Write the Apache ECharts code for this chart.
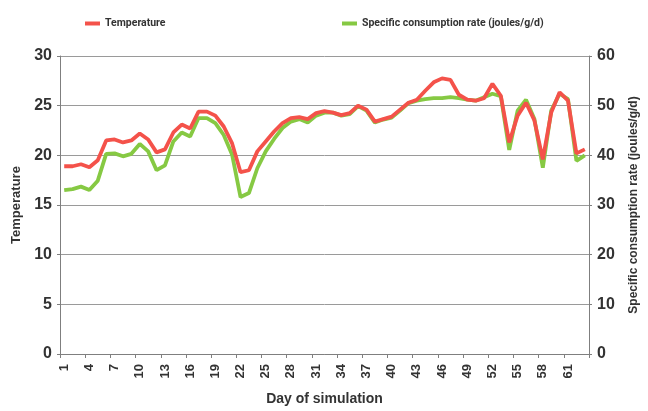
<!DOCTYPE html>
<html>
<head>
<meta charset="utf-8">
<script src="https://cdn.jsdelivr.net/npm/echarts@6/dist/echarts.min.js"></script>
<style>
  html, body { margin: 0; padding: 0; background: #ffffff; }
  #chart { width: 648px; height: 411px; }
</style>
</head>
<body>
<div id="chart"></div>
<script>
// Day of simulation (1..63)
const days = [];
for (let d = 1; d <= 63; d++) days.push(String(d));

// Water temperature per day
const temperature = [
  18.9, 18.9, 19.1, 18.8, 19.5, 21.5, 21.6, 21.3, 21.5, 22.2,
  21.6, 20.3, 20.6, 22.3, 23.1, 22.7, 24.4, 24.4, 24.0, 22.9,
  21.2, 18.3, 18.5, 20.4, 21.4, 22.4, 23.25, 23.75, 23.85, 23.65,
  24.25, 24.45, 24.3, 24.05, 24.25, 25.0, 24.6, 23.4, 23.65, 23.9,
  24.6, 25.3, 25.6, 26.5, 27.35, 27.75, 27.6, 26.1, 25.6, 25.5,
  25.75, 27.2, 26.0, 21.3, 24.0, 25.3, 23.5, 19.6, 24.3, 26.35,
  25.5, 20.2, 20.6
];

// Specific consumption rate (joules/g/d)
const consumption = [
  33.0, 33.2, 33.7, 33.0, 34.9, 40.3, 40.4, 39.8, 40.3, 42.3,
  40.8, 37.0, 38.0, 42.8, 44.6, 43.8, 47.5, 47.5, 46.5, 44.1,
  40.1, 31.6, 32.4, 37.4, 40.8, 43.3, 45.5, 46.8, 47.3, 46.6,
  48.0, 48.6, 48.6, 48.0, 48.3, 49.9, 49.0, 46.6, 47.2, 47.6,
  49.0, 50.5, 51.0, 51.3, 51.5, 51.5, 51.7, 51.5, 51.2, 51.0,
  51.7, 52.4, 51.9, 41.1, 49.0, 51.2, 47.3, 37.5, 49.0, 52.4,
  51.3, 38.9, 40.0
];

const RED = '#f4524a';
const GREEN = '#86c943';
const TEXT = '#333333';
const AXIS = '#7f7f7f';
const FONT = '"Liberation Sans", Arial, sans-serif';

const chart = echarts.init(document.getElementById('chart'), null, { renderer: 'canvas' });

const legendText = { color: TEXT, fontFamily: 'Roboto, "Liberation Sans", sans-serif', fontWeight: 'bold', fontSize: 10.5 };

chart.setOption({
  animation: false,
  backgroundColor: '#ffffff',
  grid: { left: 60, right: 59, top: 56, bottom: 57, outerBoundsMode: 'none', show: false },
  legend: [
    {
      data: ['Temperature'], left: 80, top: 13, icon: 'rect',
      itemWidth: 15, itemHeight: 4, itemGap: 7, textStyle: legendText
    },
    {
      data: ['Specific consumption rate (joules/g/d)'], left: 337, top: 13, icon: 'rect',
      itemWidth: 15, itemHeight: 4, itemGap: 7, textStyle: legendText
    }
  ],
  xAxis: {
    type: 'category',
    data: days,
    boundaryGap: true,
    name: 'Day of simulation',
    nameLocation: 'middle',
    nameGap: 38,
    nameTextStyle: { color: TEXT, fontFamily: FONT, fontWeight: 'bold', fontSize: 14 },
    axisLine: { lineStyle: { color: AXIS, width: 1 } },
    axisTick: { show: true, interval: 2, length: 4, lineStyle: { color: AXIS } },
    axisLabel: {
      interval: 2, rotate: 90, margin: 10,
      color: TEXT, fontFamily: FONT, fontWeight: 'bold', fontSize: 13
    },
    splitLine: { show: false }
  },
  yAxis: [
    {
      type: 'value', min: 0, max: 30, interval: 5, position: 'left',
      name: 'Temperature', nameLocation: 'middle', nameGap: 37, nameRotate: 90,
      nameTextStyle: { color: TEXT, fontFamily: FONT, fontWeight: 'bold', fontSize: 13 },
      axisLine: { show: true, lineStyle: { color: AXIS, width: 1 } },
      axisTick: { show: true, length: 3, lineStyle: { color: AXIS } },
      axisLabel: { margin: 8, color: TEXT, fontFamily: FONT, fontWeight: 'bold', fontSize: 16 },
      splitLine: { show: true, lineStyle: { color: '#9a9a9a', width: 1 } }
    },
    {
      type: 'value', min: 0, max: 60, interval: 10, position: 'right',
      name: 'Specific consumption rate (joules/g/d)', nameLocation: 'middle', nameGap: 39, nameRotate: 90,
      nameTextStyle: { color: TEXT, fontFamily: FONT, fontWeight: 'bold', fontSize: 12 },
      axisLine: { show: true, lineStyle: { color: AXIS, width: 1 } },
      axisTick: { show: true, length: 3, lineStyle: { color: AXIS } },
      axisLabel: { margin: 8, color: TEXT, fontFamily: FONT, fontWeight: 'bold', fontSize: 16 },
      splitLine: { show: false }
    }
  ],
  series: [
    {
      name: 'Specific consumption rate (joules/g/d)',
      type: 'line', yAxisIndex: 1, data: consumption,
      showSymbol: false, symbol: 'none', z: 2,
      lineStyle: { color: GREEN, width: 3.8 }, itemStyle: { color: GREEN }
    },
    {
      name: 'Temperature',
      type: 'line', yAxisIndex: 0, data: temperature,
      showSymbol: false, symbol: 'none', z: 3,
      lineStyle: { color: RED, width: 3.8 }, itemStyle: { color: RED }
    }
  ]
});
</script>
</body>
</html>
